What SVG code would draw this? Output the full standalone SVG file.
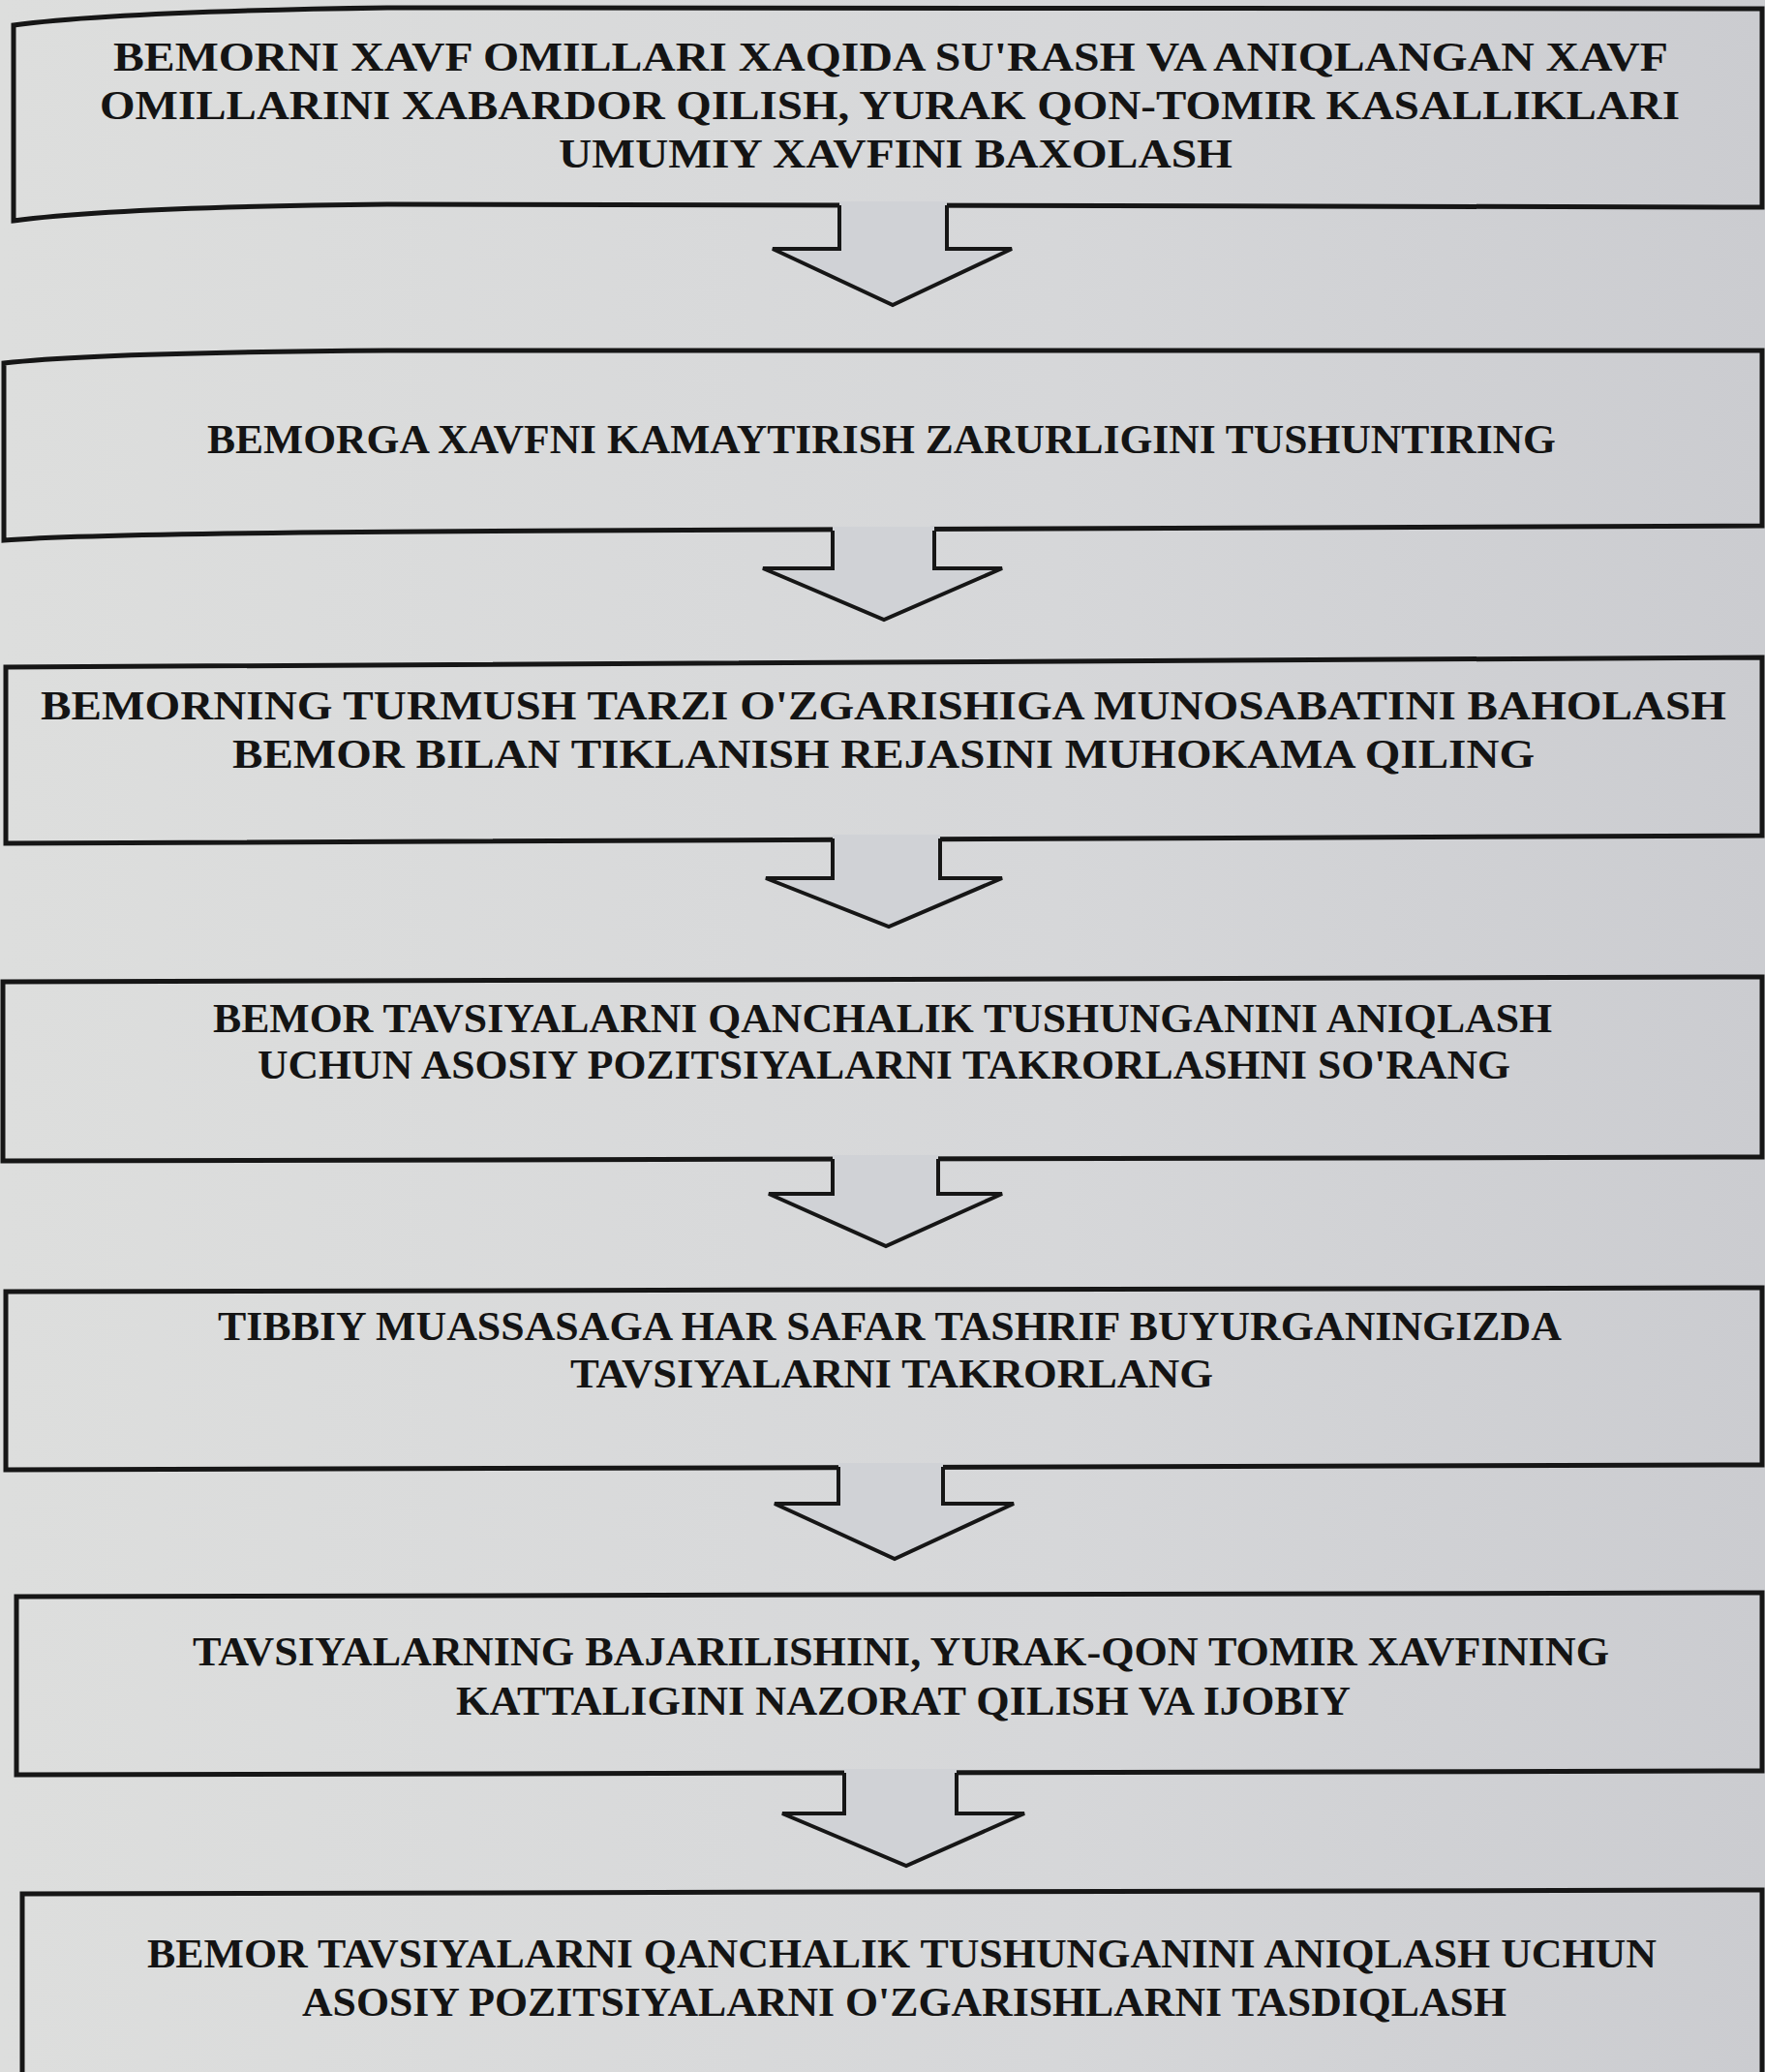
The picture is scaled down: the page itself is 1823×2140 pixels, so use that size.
<svg xmlns="http://www.w3.org/2000/svg" width="1823" height="2140" viewBox="0 0 1823 2140">
<defs>
<linearGradient id="bg" x1="0" y1="0" x2="1" y2="0">
<stop offset="0" stop-color="#dddedd"/>
<stop offset="0.6" stop-color="#d6d7d9"/>
<stop offset="1" stop-color="#cbccd0"/>
</linearGradient>
<style>
.box{fill:none;stroke:#161616;stroke-width:5;stroke-linejoin:miter}
.t{font-family:"Liberation Serif","Times New Roman",serif;font-weight:bold;font-size:43px;fill:#141414}
.af{fill:#d0d2d6;stroke:none}
.as{fill:none;stroke:#161616;stroke-width:4;stroke-linejoin:miter}
</style>
</defs>
<rect x="0" y="0" width="1823" height="2140" fill="url(#bg)"/>

<g id="node1">
<path class="box" d="M14,26 Q120,12 400,8 L1820,9 L1820,214 L400,211 Q120,214 14,228 Z"/>
<text class="t" x="117" y="73" textLength="1606" lengthAdjust="spacingAndGlyphs">BEMORNI XAVF OMILLARI XAQIDA SU'RASH VA ANIQLANGAN XAVF</text>
<text class="t" x="103" y="123" textLength="1632" lengthAdjust="spacingAndGlyphs">OMILLARINI XABARDOR QILISH, YURAK QON-TOMIR KASALLIKLARI</text>
<text class="t" x="577" y="173" textLength="696" lengthAdjust="spacingAndGlyphs">UMUMIY XAVFINI BAXOLASH</text>
</g>

<g id="node2">
<path class="box" d="M4,375 Q100,364 400,362 L1820,362 L1820,543 L600,548 Q100,550 4,558 Z"/>
<text class="t" x="214" y="468" textLength="1393" lengthAdjust="spacingAndGlyphs">BEMORGA XAVFNI KAMAYTIRISH ZARURLIGINI TUSHUNTIRING</text>
</g>

<g id="node3">
<path class="box" d="M6,689 L1820,679 L1820,863 L6,871 Z"/>
<text class="t" x="42" y="743" textLength="1741" lengthAdjust="spacingAndGlyphs">BEMORNING TURMUSH TARZI O'ZGARISHIGA MUNOSABATINI BAHOLASH</text>
<text class="t" x="240" y="793" textLength="1345" lengthAdjust="spacingAndGlyphs">BEMOR BILAN TIKLANISH REJASINI MUHOKAMA QILING</text>
</g>

<g id="node4">
<path class="box" d="M3,1014 L1820,1009 L1820,1195 L3,1199 Z"/>
<text class="t" x="220" y="1066" textLength="1383" lengthAdjust="spacingAndGlyphs">BEMOR TAVSIYALARNI QANCHALIK TUSHUNGANINI ANIQLASH</text>
<text class="t" x="266" y="1114" textLength="1294" lengthAdjust="spacingAndGlyphs">UCHUN ASOSIY POZITSIYALARNI TAKRORLASHNI SO'RANG</text>
</g>

<g id="node5">
<path class="box" d="M6,1334 L1820,1330 L1820,1513 L6,1518 Z"/>
<text class="t" x="225" y="1384" textLength="1388" lengthAdjust="spacingAndGlyphs">TIBBIY MUASSASAGA HAR SAFAR TASHRIF BUYURGANINGIZDA</text>
<text class="t" x="589" y="1433" textLength="664" lengthAdjust="spacingAndGlyphs">TAVSIYALARNI TAKRORLANG</text>
</g>

<g id="node6">
<path class="box" d="M17,1649 L1820,1645 L1820,1829 L17,1833 Z"/>
<text class="t" x="199" y="1720" textLength="1463" lengthAdjust="spacingAndGlyphs">TAVSIYALARNING BAJARILISHINI, YURAK-QON TOMIR XAVFINING</text>
<text class="t" x="471" y="1771" textLength="924" lengthAdjust="spacingAndGlyphs">KATTALIGINI NAZORAT QILISH VA IJOBIY</text>
</g>

<g id="node7">
<path class="box" d="M23,1956 L1820,1952 L1820,2150 L23,2150 Z"/>
<text class="t" x="152" y="2032" textLength="1559" lengthAdjust="spacingAndGlyphs">BEMOR TAVSIYALARNI QANCHALIK TUSHUNGANINI ANIQLASH UCHUN</text>
<text class="t" x="312" y="2082" textLength="1244" lengthAdjust="spacingAndGlyphs">ASOSIY POZITSIYALARNI O'ZGARISHLARNI TASDIQLASH</text>
</g>

<g id="connectors">
<polygon class="af" points="867,208 867,257 798,257 922,315 1045,257 978,257 978,208"/>
<polyline class="as" points="867,212 867,257 798,257 922,315 1045,257 978,257 978,212"/>

<polygon class="af" points="860,544 860,587 788,587 913,640 1035,587 965,587 965,544"/>
<polyline class="as" points="860,548 860,587 788,587 913,640 1035,587 965,587 965,548"/>

<polygon class="af" points="860,862 860,907 791,907 918,957 1035,907 971,907 971,862"/>
<polyline class="as" points="860,866 860,907 791,907 918,957 1035,907 971,907 971,866"/>

<polygon class="af" points="860,1193 860,1233 794,1233 915,1287 1035,1233 969,1233 969,1193"/>
<polyline class="as" points="860,1197 860,1233 794,1233 915,1287 1035,1233 969,1233 969,1197"/>

<polygon class="af" points="866,1511 866,1553 800,1553 924,1610 1047,1553 974,1553 974,1511"/>
<polyline class="as" points="866,1515 866,1553 800,1553 924,1610 1047,1553 974,1553 974,1515"/>

<polygon class="af" points="872,1827 872,1873 808,1873 936,1927 1058,1873 988,1873 988,1827"/>
<polyline class="as" points="872,1831 872,1873 808,1873 936,1927 1058,1873 988,1873 988,1831"/>
</g>
</svg>
